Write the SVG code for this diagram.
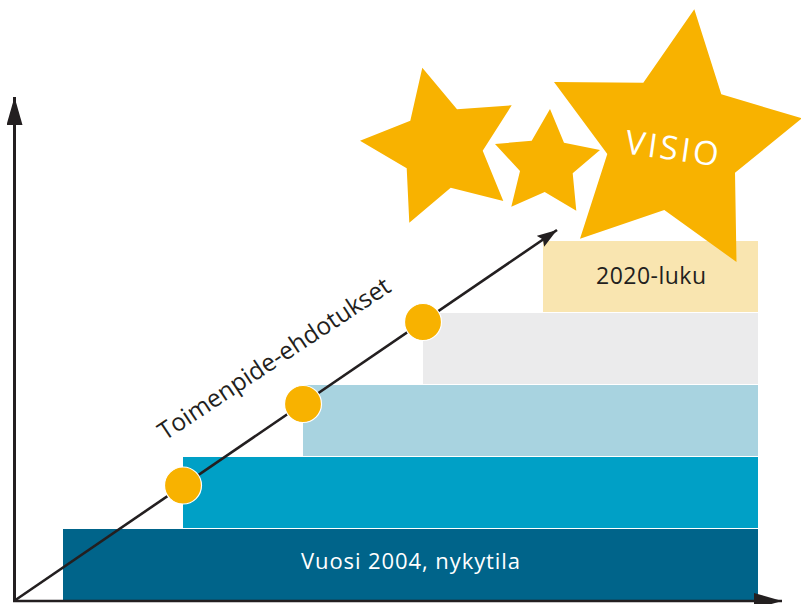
<svg xmlns="http://www.w3.org/2000/svg" width="801" height="604" viewBox="0 0 801 604">
<style>
.bar{stroke:none}
.star{fill:#F8B200;stroke:none}
.dot{fill:#F8B200;stroke:#FFFFFF;stroke-width:1.2}
.ax{stroke:#231F20;fill:none}
.t{font-family:"Open Sans","Noto Sans",sans-serif}
</style>
<defs>
<marker id="ahAxis" markerUnits="userSpaceOnUse" markerWidth="30" markerHeight="18" refX="28" refY="8" orient="auto">
<path d="M0,0 L28,8 L0,16 z" fill="#231F20"/>
</marker>
<marker id="ahDiag" markerUnits="userSpaceOnUse" markerWidth="22" markerHeight="14" refX="20" refY="6.5" orient="auto">
<path d="M0,0 L20,6.5 L0,13 L3,6.5 z" fill="#231F20"/>
</marker>
</defs>
<rect width="801" height="604" fill="#FFFFFF"/>
<g id="bar-2004">
<rect class="bar" x="63" y="529" width="695" height="71" fill="#00648A"/>
<text class="t" x="410.5" y="568.5" font-size="22" fill="#FFFFFF" text-anchor="middle" textLength="219" lengthAdjust="spacing">Vuosi 2004, nykytila</text>
</g>
<g id="bar-2">
<rect class="bar" x="183" y="457" width="575" height="71" fill="#00A0C6"/>
</g>
<g id="bar-3">
<rect class="bar" x="303" y="385" width="455" height="71" fill="#A8D3E0"/>
</g>
<g id="bar-4">
<rect class="bar" x="423" y="313" width="335" height="71" fill="#EBEBEC"/>
</g>
<g id="bar-2020">
<rect class="bar" x="543" y="241" width="215" height="71" fill="#F9E5B0"/>
<text class="t" x="651" y="283.5" font-size="23" fill="#231F20" text-anchor="middle" textLength="110" lengthAdjust="spacing">2020-luku</text>
</g>
<g id="connectors">
<line class="ax" x1="14.5" y1="601" x2="14.5" y2="97" stroke-width="3" marker-end="url(#ahAxis)"/>
<line class="ax" x1="13" y1="601" x2="782" y2="601" stroke-width="2.5" marker-end="url(#ahAxis)"/>
<line class="ax" x1="14" y1="601" x2="557" y2="230" stroke-width="2.6" marker-end="url(#ahDiag)"/>
</g>
<g id="dot-1"><circle class="dot" cx="183" cy="485.5" r="18.5"/></g>
<g id="dot-2"><circle class="dot" cx="303" cy="404" r="18.5"/></g>
<g id="dot-3"><circle class="dot" cx="423" cy="322" r="18.5"/></g>
<g id="label-toimenpide">
<text class="t" transform="translate(165,441) rotate(-33.5)" font-size="24.5" fill="#231F20">Toimenpide-ehdotukset</text>
</g>
<g id="star-left">
<polygon class="star" points="422.3,67.7 457,109.3 511.7,105.3 482.7,150.7 503.3,201 450.7,187.7 409.3,222.7 406.7,168.3 360,140.7 410.3,120.7"/>
</g>
<g id="star-middle">
<polygon class="star" points="550,109 564,142.7 600,150 572.7,173.3 576.3,210.7 544.7,192 511.3,206.7 520,171 495,144 531.7,140.7"/>
</g>
<g id="star-visio">
<polygon class="star" points="694.3,9.3 721.3,94.3 802,118.3 735,172.7 736.5,262 664.3,210 580,238.7 607.3,154 554,82 643.3,82.7"/>
<text class="t" transform="translate(672,160) rotate(8)" font-size="33" fill="#FFFFFF" text-anchor="middle" letter-spacing="3">VISIO</text>
</g>
</svg>
